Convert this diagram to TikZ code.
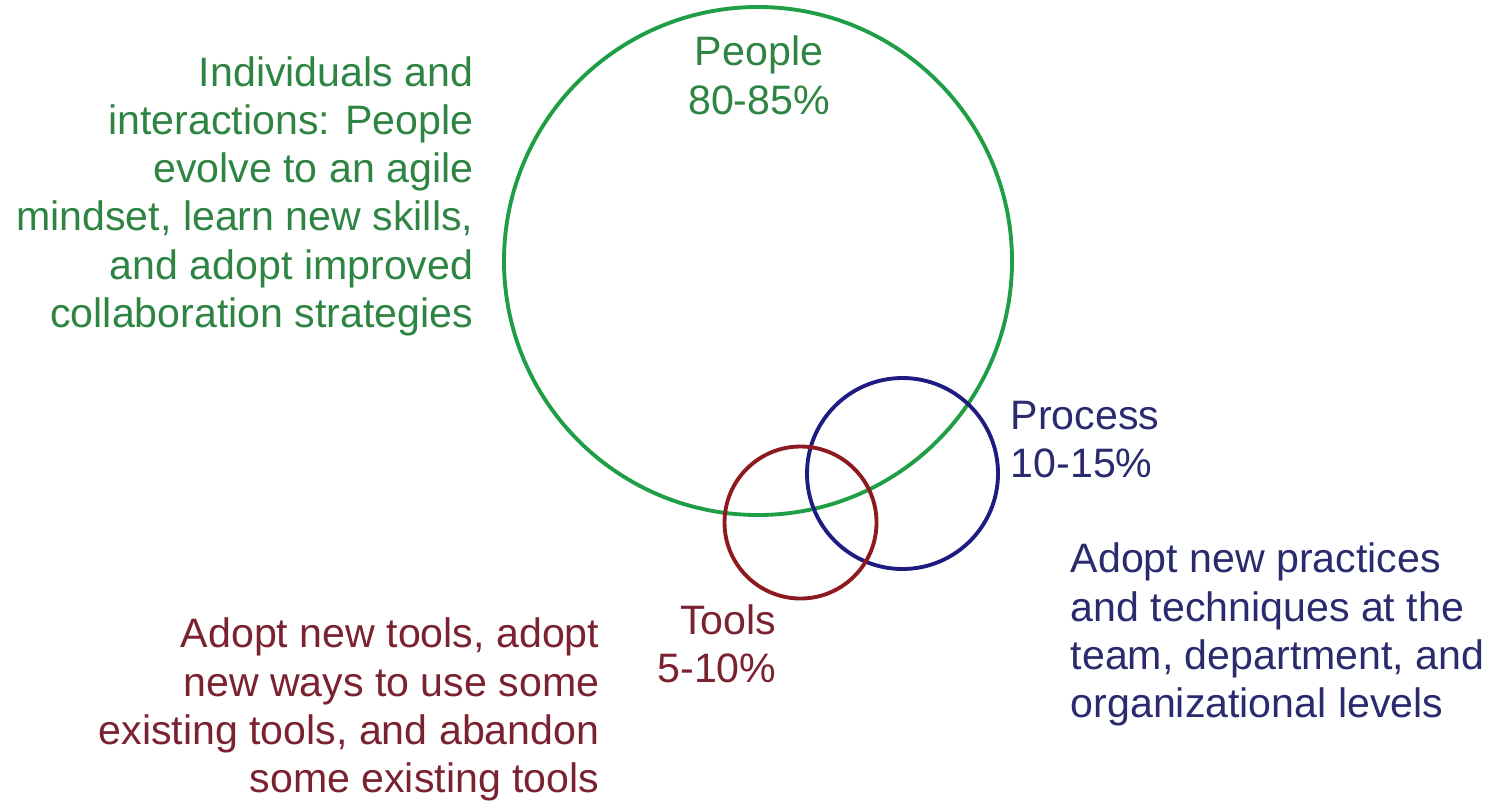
\documentclass[tikz,border=0pt]{standalone}
\usepackage{fontspec}
\setmainfont{Liberation Sans}
\usetikzlibrary{positioning}
\definecolor{peoplegreen}{HTML}{1F9E45}
\definecolor{peopletext}{HTML}{2E8442}
\definecolor{toolsred}{HTML}{8C1A1E}
\definecolor{toolstext}{HTML}{7A2230}
\definecolor{processblue}{HTML}{1E1C80}
\definecolor{processtext}{HTML}{2A2A6E}
\tikzset{
  label text/.style={inner sep=0pt, font=\fontsize{11.7pt}{13.66pt}\selectfont},
  ring/.style={line width=1.1pt}
}
\begin{document}
\begin{tikzpicture}
			%%%%% START %%%%%
			
			\useasboundingbox (0, 0) rectangle (15.05, -8.02);
			
			\draw[ring, color=peoplegreen] (7.58, -2.61) circle (2.54);
			\draw[ring, color=processblue] (9.025, -4.735) circle (0.955);
			\draw[ring, color=toolsred] (8.005, -5.225) circle (0.76);
			
			% anchor base = baseline of the last line
			\node[label text, color=peopletext, align=center, anchor=base] (people) at (7.59, -1.14) {People\\80-85\%};
			\node[label text, color=processtext, align=left, anchor=base west] (process) at (10.1, -4.77) {Process\\10-15\%};
			\node[label text, color=toolstext, align=right, anchor=base east] (tools) at (7.77, -6.82) {Tools\\5-10\%};
			
			\node[label text, color=peopletext, align=right, anchor=base east] (mindset) at (4.74, -3.27) {Individuals and\\interactions: People\\evolve to an agile\\mindset, learn new skills,\\and adopt improved\\collaboration strategies};
			
			\node[label text, color=processtext, align=left, anchor=base west] (practices) at (10.7, -7.17) {Adopt new practices\\and techniques at the\\team, department, and\\organizational levels};
			
			\node[label text, color=toolstext, align=right, anchor=base east] (toolchange) at (6.0, -7.92) {Adopt new tools, adopt\\new ways to use some\\existing tools, and abandon\\some existing tools};
			
			%%%%% END %%%%%
\end{tikzpicture}
\end{document}
